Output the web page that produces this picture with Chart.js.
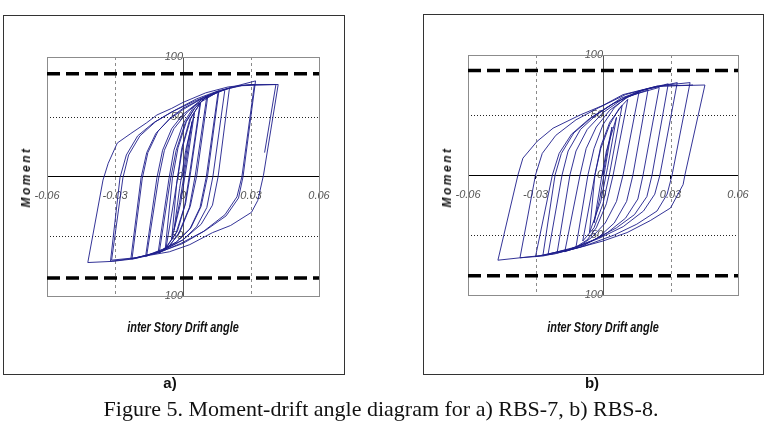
<!DOCTYPE html>
<html>
<head>
<meta charset="utf-8">
<script src="https://cdn.jsdelivr.net/npm/chart.js@4.4.1/dist/chart.umd.min.js"></script>
<style>
  body { margin: 0; background: #fff; width: 765px; height: 430px; position: relative; overflow: hidden; }
  .box { position: absolute; border: 1px solid #333; box-sizing: border-box; }
  canvas { position: absolute; }
  .ytitle, .xtitle, .tag, .caption { position: absolute; white-space: nowrap; color: #111; }
  .ytitle { font: italic bold 12px "Liberation Sans", Arial, sans-serif; letter-spacing: 2.5px; transform: translate(-50%, -50%) rotate(-90deg); }
  .xtitle { font: italic bold 14px "Liberation Sans", Arial, sans-serif; transform: translate(-50%, -50%) scaleX(0.78); }
  .tag { font: bold 15px "Liberation Sans", Arial, sans-serif; transform: translate(-50%, -50%); }
  .caption { font: 22px "Liberation Serif", "Times New Roman", serif; transform: translate(-50%, -50%); }
</style>
</head>
<body>
<div class="box" style="left:3px;top:15px;width:342px;height:360px"></div>
<div class="box" style="left:423px;top:14px;width:341px;height:361px"></div>
<canvas id="chartA" width="340" height="358" style="left:4px;top:16px"></canvas>
<canvas id="chartB" width="339" height="359" style="left:424px;top:15px"></canvas>
<div class="ytitle" style="left:26px;top:177px">Moment</div>
<div class="ytitle" style="left:447px;top:177px">Moment</div>
<div class="xtitle" style="left:183px;top:327px">inter Story Drift angle</div>
<div class="xtitle" style="left:603px;top:327px">inter Story Drift angle</div>
<div class="tag" style="left:170px;top:382px">a)</div>
<div class="tag" style="left:592px;top:382px">b)</div>
<div class="caption" style="left:381px;top:409px">Figure 5. Moment-drift angle diagram for a) RBS-7, b) RBS-8.</div>
<script>
// axis ticks
const driftTicks = [-0.06, -0.03, 0, 0.03, 0.06];
const momentTicks = [-100, -50, 0, 50, 100];

// limit moment lines (thick dashed)
const limitA = [86, -85];
const limitB = [87, -84];

// RBS-7 hysteresis path [drift, moment]
const rbs7 = [
  [0, 0],
  [0.002, 27], [0.004, 46], [0.0012, 10], [-0.0015, -22], [-0.004, -45],
  [-0.0015, -10], [0.0012, 22], [0.005, 53], [0.002, 14], [-0.001, -22], [-0.005, -53],
  [-0.0028, -6], [-0.0005, 24], [0.003, 48], [0.0075, 61], [0.0032, 6], [0.0008, -24], [-0.003, -47], [-0.0075, -60],
  [-0.0026, -4], [0, 26], [0.0035, 49], [0.0078, 62], [0.0034, 4], [0.0012, -22], [-0.0025, -46], [-0.0078, -60],
  [-0.0047, -2], [-0.0022, 24], [0.0015, 46], [0.0055, 58], [0.0105, 67], [0.0055, 2], [0.0028, -26], [-0.002, -48], [-0.006, -58], [-0.0105, -64],
  [-0.0055, -2], [-0.003, 22], [0.001, 45], [0.005, 57], [0.011, 68], [0.006, 0], [0.0032, -25], [-0.0015, -47], [-0.006, -58], [-0.011, -64],
  [-0.0062, -2], [-0.004, 22], [0, 44], [0.005, 59], [0.0155, 71], [0.0103, 0], [0.0075, -26], [0.003, -44], [-0.003, -55], [-0.009, -61], [-0.016, -66],
  [-0.0108, -2], [-0.0082, 22], [-0.004, 40], [0.002, 54], [0.008, 64], [0.0158, 71], [0.0108, 0], [0.008, -25], [0.0035, -43], [-0.003, -55], [-0.009, -61], [-0.0165, -67],
  [-0.0115, -1], [-0.009, 22], [-0.005, 40], [0, 52], [0.008, 64], [0.0185, 73], [0.0132, 0], [0.0105, -26], [0.006, -42], [0, -53], [-0.01, -63], [-0.0225, -69],
  [-0.018, -2], [-0.0155, 20], [-0.011, 38], [-0.005, 50], [0, 57], [0.009, 66], [0.0205, 74], [0.0155, 0], [0.013, -24], [0.008, -40], [0, -53], [-0.01, -63], [-0.023, -69],
  [-0.0185, -1], [-0.016, 20], [-0.012, 36], [-0.006, 48], [0, 56], [0.01, 67], [0.02, 74], [0.032, 80], [0.0265, 0], [0.0245, -18], [0.019, -33], [0.01, -45], [0, -56], [-0.01, -63], [-0.02, -68], [-0.032, -71],
  [-0.0278, -1], [-0.025, 18], [-0.02, 34], [-0.013, 45], [-0.005, 54], [0.005, 63], [0.015, 71], [0.025, 76], [0.0315, 77], [0.026, 0], [0.0238, -17], [0.0185, -32], [0.009, -46], [-0.001, -56], [-0.011, -64], [-0.021, -68], [-0.0315, -70],
  [-0.0265, -1], [-0.024, 18], [-0.019, 34], [-0.012, 46], [-0.004, 55], [0.006, 65], [0.016, 72], [0.026, 76], [0.042, 77], [0.0355, 1], [0.033, -20], [0.0302, -30], [0.021, -41], [0.013, -47], [0.003, -57], [-0.006, -63], [-0.015, -66], [-0.022, -69], [-0.031, -71], [-0.042, -72],
  [-0.0353, -3], [-0.033, 11], [-0.029, 28], [-0.023, 36], [-0.016, 45], [-0.0115, 51.5], [-0.005, 57], [0, 62], [0.01, 70], [0.02, 75], [0.03, 77], [0.041, 77], [0.036, 20]
];

// RBS-8 hysteresis path [drift, moment]
const rbs8 = [
  [0, 0],
  [0.002, 22], [0.004, 40], [0.001, 6], [-0.0015, -20], [-0.004, -40],
  [-0.001, -6], [0.0015, 20], [0.006, 48], [0.002, 6], [-0.001, -22], [-0.006, -48],
  [-0.0036, 0], [-0.001, 24], [0.003, 44], [0.0085, 58], [0.003, 2], [0, -24], [-0.004, -44], [-0.009, -55],
  [-0.0036, 0], [-0.001, 22], [0.003, 42], [0.007, 55], [0.011, 63], [0.0045, 0], [0.0015, -24], [-0.003, -44], [-0.007, -54], [-0.012, -60],
  [-0.0067, 0], [-0.004, 22], [0, 42], [0.005, 56], [0.01, 64], [0.016, 69], [0.0089, 0], [0.006, -22], [0.001, -40], [-0.005, -52], [-0.011, -60], [-0.017, -64],
  [-0.0102, 0], [-0.0075, 22], [-0.003, 40], [0.003, 54], [0.011, 65], [0.02, 71], [0.0133, 0], [0.0105, -22], [0.005, -40], [-0.002, -52], [-0.01, -60], [-0.0204, -65],
  [-0.0147, 0], [-0.012, 20], [-0.007, 38], [0, 52], [0.01, 65], [0.025, 73], [0.0178, 0], [0.0155, -20], [0.01, -36], [0.002, -48], [-0.008, -58], [-0.0244, -66],
  [-0.0182, 0], [-0.0155, 20], [-0.01, 38], [-0.003, 50], [0.008, 64], [0.02, 72], [0.029, 76], [0.0218, 0], [0.0195, -18], [0.014, -33], [0.006, -44], [-0.004, -54], [-0.015, -62], [-0.0267, -67],
  [-0.0213, 0], [-0.0185, 18], [-0.013, 35], [-0.005, 48], [0.005, 60], [0.018, 71], [0.033, 77], [0.0253, 0], [0.023, -16], [0.018, -30], [0.009, -43], [-0.002, -53], [-0.015, -62], [-0.03, -68],
  [-0.0225, 0], [-0.0195, 18], [-0.014, 34], [-0.006, 47], [0.004, 59], [0.016, 70], [0.028, 75], [0.0387, 77], [0.0307, 0], [0.0285, -16], [0.024, -30], [0.015, -41], [0.005, -50], [-0.008, -59], [-0.022, -66], [-0.0369, -69],
  [-0.03, 0], [-0.027, 18], [-0.021, 33], [-0.012, 46], [-0.002, 56], [0.01, 67], [0.024, 74], [0.0453, 75], [0.0364, 0], [0.0356, -8], [0.03, -27.5], [0.021, -38], [0.0107, -48], [0, -55], [-0.0116, -61], [-0.0267, -67.5], [-0.0369, -69], [-0.0467, -71],
  [-0.0378, 0], [-0.0356, 14], [-0.0293, 28], [-0.0222, 39], [-0.0102, 50], [0, 58], [0.0089, 67], [0.024, 74], [0.04, 75]
];

const gridLines = {
  id: 'gridLines',
  beforeDatasetsDraw(chart) {
    const { ctx, chartArea: a, scales: { x, y } } = chart;
    ctx.save();
    ctx.lineWidth = 1;
    // dashed verticals
    ctx.strokeStyle = '#8a8a8a';
    ctx.setLineDash([3, 3]);
    driftTicks.filter(v => v !== 0 && Math.abs(v) < 0.06).forEach(v => {
      const px = Math.round(x.getPixelForValue(v)) + 0.5;
      ctx.beginPath(); ctx.moveTo(px, a.top); ctx.lineTo(px, a.bottom); ctx.stroke();
    });
    // dotted horizontals
    ctx.strokeStyle = '#222';
    ctx.setLineDash([1, 2]);
    momentTicks.filter(v => v !== 0 && Math.abs(v) < 100).forEach(v => {
      const py = Math.round(y.getPixelForValue(v)) + 0.5;
      ctx.beginPath(); ctx.moveTo(a.left, py); ctx.lineTo(a.right, py); ctx.stroke();
    });
    // plot frame
    ctx.setLineDash([]);
    ctx.strokeStyle = '#8c8c8c';
    ctx.strokeRect(Math.round(a.left) + 0.5, Math.round(a.top) + 0.5, Math.round(a.width), Math.round(a.height));
    ctx.restore();
  }
};

const tickFont = { family: '"Liberation Sans", Arial, sans-serif', size: 11, style: 'italic' };

function makeChart(id, path, limits, pad) {
  const dashed = limits.map(m => ({
    data: [{ x: driftTicks[0], y: m }, { x: driftTicks[driftTicks.length - 1], y: m }],
    borderColor: '#000',
    borderWidth: 3.5,
    borderDash: [13, 6],
    pointRadius: 0,
    showLine: true
  }));
  return new Chart(document.getElementById(id), {
    type: 'scatter',
    data: {
      datasets: [
        {
          data: path.map(p => ({ x: p[0], y: p[1] })),
          borderColor: 'rgba(30, 30, 140, 0.9)',
          borderWidth: 1,
          pointRadius: 0,
          showLine: true,
          tension: 0
        },
        ...dashed
      ]
    },
    options: {
      responsive: false,
      animation: false,
      layout: { padding: pad },
      plugins: { legend: { display: false }, tooltip: { enabled: false } },
      scales: {
        x: {
          type: 'linear',
          position: { y: 0 },
          min: -0.06,
          max: 0.06,
          afterBuildTicks: s => { s.ticks = driftTicks.map(v => ({ value: v })); },
          ticks: { color: '#555', font: tickFont, padding: 10, maxRotation: 0 },
          grid: { drawOnChartArea: false, tickLength: 3, tickColor: '#000' },
          border: { color: '#000', width: 1 }
        },
        y: {
          type: 'linear',
          position: { x: 0 },
          min: -100,
          max: 100,
          afterBuildTicks: s => { s.ticks = momentTicks.map(v => ({ value: v })); },
          ticks: { color: '#555', font: tickFont, padding: 5 },
          grid: { drawOnChartArea: false, tickLength: 3, tickColor: '#555' },
          border: { color: '#555', width: 1 }
        }
      }
    },
    plugins: [gridLines]
  });
}

makeChart('chartA', rbs7, limitA, { left: 43, top: 41, right: 25, bottom: 78 });
makeChart('chartB', rbs8, limitB, { left: 44, top: 40, right: 25, bottom: 79 });
</script>
</body>
</html>
